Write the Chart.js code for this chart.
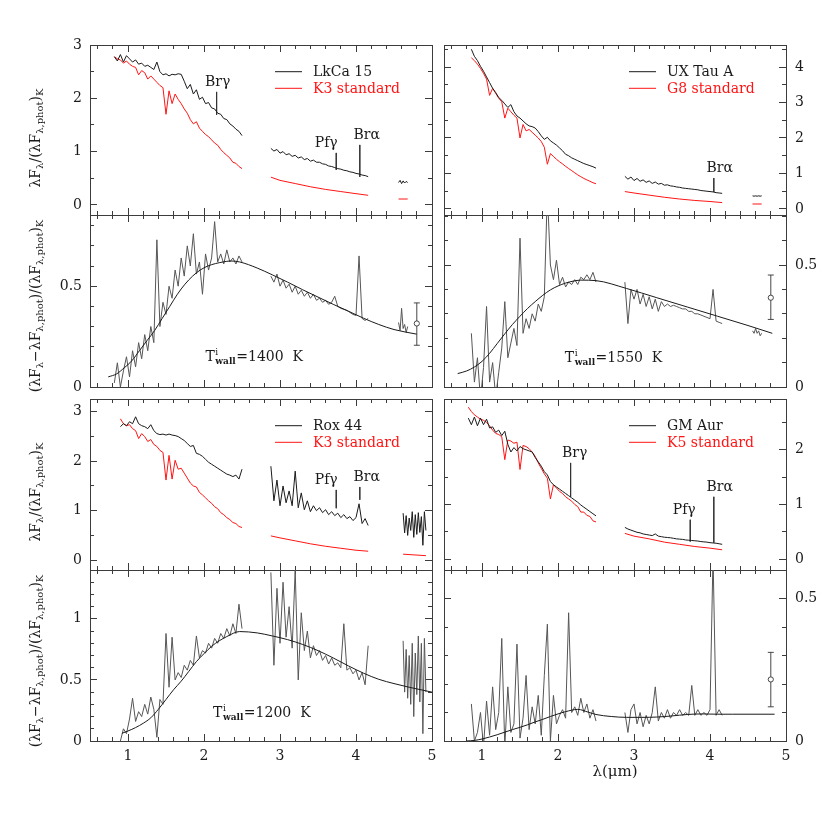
<!DOCTYPE html>
<html>
<head>
<meta charset="utf-8">
<script src="https://cdn.jsdelivr.net/npm/chart.js@4.4.1/dist/chart.umd.min.js"></script>
<style>
  html, body { margin: 0; padding: 0; background: #fff; }
  #wrap { position: relative; width: 830px; height: 830px; }
  #wrap canvas { position: absolute; left: 0; top: 0; }
</style>
</head>
<body>
<div id="wrap"></div>
<script>
// wavelength grids (micron)
const wlJ = [0.82,0.86,0.90,0.94,0.98,1.02,1.06,1.10,1.14,1.18,
             1.22,1.26,1.30,1.34,1.38,1.42,1.46,1.50,1.54,1.58,
             1.62,1.66,1.70,1.74,1.78,1.82,1.86,1.90,1.94,1.98,
             2.02,2.06,2.10,2.14,2.18,2.22,2.26,2.30,2.34,2.38,
             2.42,2.46,2.50];
const wlL = [2.88,2.92,2.96,3.00,3.04,3.08,3.12,3.16,3.20,3.24,
             3.28,3.32,3.36,3.40,3.44,3.48,3.52,3.56,3.60,3.64,
             3.68,3.72,3.76,3.80,3.84,3.88,3.92,3.96,4.00,4.04,
             4.08,4.12,4.16];
const wlLs = [2.88, 3.00, 3.20, 3.40, 3.60, 3.80, 4.00, 4.16];
const wlM = [4.56, 4.58, 4.60, 4.62, 4.64, 4.66, 4.68];
const wlMs = [4.56, 4.68];
const wlMRox = [4.62,4.64,4.66,4.68,4.70,4.72,4.74,4.76,4.78,4.80,4.82,4.84,4.86,4.88,4.90,4.92];
const wlMsRox = [4.62, 4.92];

// tick positions
const xMajor = [1, 2, 3, 4, 5];
const xMinor = [0.6,0.8,1.0,1.2,1.4,1.6,1.8,2.0,2.2,2.4,2.6,2.8,3.0,3.2,3.4,3.6,3.8,4.0,4.2,4.4,4.6,4.8,5.0];
const specMajor = [0, 1, 2, 3, 4];
const specMinor = [0, 0.5, 1, 1.5, 2, 2.5, 3, 3.5, 4, 4.5];
const excMajor = [0, 0.5, 1];
const excMinor = [0, 0.1, 0.2, 0.3, 0.4, 0.5, 0.6, 0.7, 0.8, 0.9, 1.0, 1.1, 1.2, 1.3, 1.4];

// LkCa 15
const lkcaJ = [2.78,2.70,2.82,2.68,2.80,2.74,2.68,2.72,2.64,2.66,
               2.60,2.62,2.58,2.54,2.68,2.50,2.44,2.46,2.42,2.45,
               2.44,2.46,2.45,2.32,2.18,2.26,2.08,2.16,1.98,2.02,
               1.90,1.92,1.82,1.80,1.72,1.70,1.62,1.60,1.52,1.48,
               1.42,1.38,1.30];
const lkcaL = [1.06,1.01,1.04,0.97,1.00,0.94,0.96,0.91,0.93,0.88,
               0.90,0.85,0.87,0.82,0.84,0.80,0.80,0.77,0.76,0.73,
               0.72,0.70,0.68,0.67,0.65,0.64,0.62,0.61,0.59,0.58,
               0.56,0.55,0.53];
const lkcaM = [0.42, 0.46, 0.40, 0.45, 0.41, 0.44, 0.42];
const k3lkJ = [2.78,2.74,2.72,2.66,2.70,2.64,2.60,2.58,2.44,2.52,
               2.48,2.36,2.42,2.36,2.30,2.24,2.20,1.70,2.14,1.90,
               2.08,1.98,1.90,1.80,1.72,1.60,1.52,1.56,1.44,1.38,
               1.32,1.28,1.22,1.16,1.12,1.04,0.98,0.93,0.88,0.80,
               0.78,0.72,0.68];
const k3lkL = [0.52, 0.46, 0.40, 0.34, 0.29, 0.25, 0.21, 0.18];
const k3lkM = [0.11, 0.11];
const lkcaExJ = [0.02,0.12,0.00,0.08,0.15,0.05,0.18,0.10,0.22,0.14,
                 0.26,0.18,0.30,0.22,0.73,0.30,0.42,0.36,0.50,0.44,
                 0.58,0.50,0.64,0.55,0.70,0.60,0.76,0.56,0.62,0.46,
                 0.66,0.58,0.64,0.82,0.62,0.66,0.61,0.68,0.62,0.64,
                 0.61,0.65,0.62];
const lkcaExL = [0.55,0.52,0.56,0.50,0.53,0.49,0.51,0.47,0.50,0.46,
                 0.48,0.45,0.47,0.44,0.46,0.43,0.44,0.42,0.43,0.41,
                 0.42,0.45,0.40,0.39,0.385,0.38,0.37,0.36,0.355,0.65,
                 0.34,0.33,0.34];
const lkcaExM = [0.32, 0.28, 0.39, 0.29, 0.31, 0.27, 0.30];
const lkcaModelWl = [0.74,0.85,0.95,1.05,1.15,1.25,1.35,1.45,1.55,1.65,1.75,1.85,1.95,2.05,2.15,
                     2.25,2.35,2.47,2.70,2.90,3.10,3.30,3.50,3.70,3.90,4.10,4.30,4.50,4.80];
const lkcaModel = [0.050,0.065,0.095,0.13,0.18,0.23,0.28,0.34,0.40,0.46,0.51,0.55,0.58,0.60,0.612,
                   0.62,0.625,0.62,0.59,0.556,0.52,0.482,0.446,0.41,0.376,0.341,0.31,0.285,0.262];
const lkcaPoint = [4.80, 0.315];
const lkcaRange = [0.207, 0.417];
const lkcaMarks = [[2.166, 2.12, 1.69], [3.74, 0.975, 0.656], [4.05, 1.125, 0.525]];

// UX Tau A
const uxJ = [null,4.50,4.30,4.18,4.02,3.88,3.72,3.56,3.40,3.28,
             3.14,3.06,2.96,2.86,2.94,2.74,2.62,2.56,2.48,2.40,
             2.34,2.32,2.28,2.18,2.06,1.96,2.02,1.92,1.86,1.80,
             1.72,1.64,1.54,1.50,1.44,1.40,1.36,1.32,1.28,1.25,
             1.22,1.19,1.15];
const uxL = [0.92,0.84,0.90,0.80,0.86,0.78,0.82,0.75,0.79,0.72,
             0.76,0.70,0.72,0.67,0.68,0.65,0.64,0.62,0.61,0.59,
             0.58,0.57,0.56,0.55,0.54,0.52,0.51,0.50,0.49,0.48,
             0.46,0.45,0.44];
const uxM = [0.37, 0.36, 0.37, 0.36, 0.37, 0.36, 0.37];
const g8J = [null,4.26,4.18,4.08,3.96,3.82,3.66,3.20,3.40,3.26,
             3.12,3.02,2.56,2.84,2.74,2.64,2.56,2.00,2.38,2.20,
             2.24,2.16,2.08,2.00,1.90,1.74,1.26,1.56,1.48,1.40,
             1.33,1.27,1.20,1.14,1.08,1.02,0.96,0.91,0.86,0.82,
             0.78,0.74,0.71];
const g8L = [0.49, 0.45, 0.39, 0.33, 0.28, 0.24, 0.21, 0.18];
const g8M = [0.14, 0.14];
const uxExJ = [null,0.22,0.02,0.12,-0.05,0.08,0.33,0.02,0.10,-0.04,
               0.06,0.16,0.35,0.12,0.18,0.24,0.17,0.61,0.22,0.28,
               0.24,0.30,0.27,0.34,0.31,0.37,0.80,0.50,0.44,0.52,
               0.42,0.45,0.41,0.43,0.42,0.44,0.42,0.45,0.44,0.46,
               0.44,0.47,0.43];
const uxExL = [0.43,0.26,0.40,0.36,0.40,0.34,0.38,0.33,0.37,0.32,
               0.36,0.31,0.35,0.33,0.34,0.33,0.335,0.33,0.325,0.32,
               0.32,0.31,0.31,0.30,0.30,0.295,0.29,0.285,0.28,0.40,
               0.27,0.265,0.26];
const uxExM = [0.23, 0.22, 0.24, 0.22, 0.23, 0.21, 0.22];
const uxModelWl = [0.68,0.80,0.90,1.00,1.10,1.20,1.30,1.40,1.50,1.60,1.70,1.80,1.90,2.00,2.10,2.20,
                   2.30,2.50,2.90,3.30,3.70,4.10,4.50,4.82];
const uxModel = [0.055,0.066,0.082,0.105,0.138,0.178,0.218,0.256,0.29,0.322,0.35,0.376,0.398,0.414,0.426,0.434,
                 0.438,0.436,0.404,0.366,0.328,0.29,0.252,0.22];
const uxPoint = [4.80, 0.366];
const uxRange = [0.277, 0.459];
const uxMarks = [[4.05, 0.87, 0.48]];

// Rox 44
const roxJ = [null,null,2.70,2.76,2.72,2.80,2.76,2.90,2.76,2.72,
              2.70,2.66,2.74,2.62,2.56,2.54,2.55,2.53,2.55,2.53,
              2.52,2.50,2.46,2.42,2.36,2.30,2.32,2.16,2.14,2.10,
              2.04,1.98,1.94,1.90,1.86,1.82,1.78,1.74,1.72,1.69,
              1.72,1.64,1.84];
const roxL = [1.90,1.20,1.62,1.10,1.50,1.16,1.40,1.10,1.80,1.06,
              1.36,1.02,1.20,0.98,1.10,1.00,1.06,0.96,1.02,0.92,
              0.98,0.90,0.95,0.86,0.92,0.84,0.88,0.80,0.86,1.14,
              0.74,0.84,0.70];
const roxM = [0.95,0.55,0.90,0.50,0.85,0.60,0.98,0.46,0.92,0.52,0.96,0.56,0.88,0.30,0.98,0.60];
const k3rxJ = [null,null,2.86,2.76,2.72,2.74,2.66,2.62,2.46,2.56,
               2.50,2.40,2.44,2.34,2.30,2.22,2.18,1.62,2.12,1.64,
               2.02,1.84,1.86,1.76,1.66,1.56,1.50,1.48,1.37,1.32,
               1.26,1.20,1.15,1.08,1.04,0.96,0.92,0.86,0.82,0.76,
               0.74,0.68,0.66];
const k3rxL = [0.49, 0.45, 0.39, 0.33, 0.28, 0.24, 0.20, 0.18];
const k3rxM = [0.12, 0.09];
const roxExJ = [null,null,0.00,0.10,0.06,0.18,0.35,0.16,0.24,0.20,
                0.30,0.22,0.36,0.26,0.03,0.34,0.30,0.88,0.44,0.85,
                0.50,0.56,0.52,0.62,0.58,0.66,0.62,0.86,0.68,0.74,
                0.72,0.80,0.76,0.84,0.80,0.88,0.84,0.92,0.86,0.96,
                0.88,1.12,0.92];
const roxExL = [1.38,0.62,1.25,0.80,1.30,0.85,1.10,0.76,1.40,0.50,
                1.05,0.74,0.90,0.68,0.78,0.70,0.74,0.66,0.70,0.63,
                0.68,0.62,0.64,0.60,0.96,0.58,0.60,0.55,0.58,0.50,
                0.56,0.46,0.78];
const roxExM = [0.82,0.40,0.75,0.35,0.70,0.30,0.80,0.20,0.72,0.38,0.86,0.32,0.80,0.06,0.84,0.40];
const roxModelWl = [0.92,1.00,1.10,1.20,1.30,1.40,1.50,1.60,1.70,1.80,1.90,2.00,2.10,2.20,2.30,2.47,
                    2.70,2.90,3.10,3.30,3.50,3.70,3.90,4.10,4.30,4.50,4.70,5.00];
const roxModel = [0.063,0.082,0.11,0.145,0.19,0.26,0.34,0.42,0.49,0.57,0.65,0.715,0.775,0.82,0.855,0.896,
                  0.885,0.86,0.83,0.79,0.74,0.68,0.615,0.555,0.505,0.47,0.44,0.40];
const roxMarks = [[3.74, 1.42, 1.05], [4.05, 1.48, 1.22]];

// GM Aur
const gmJ = [2.58,2.46,2.60,2.44,2.58,2.46,2.56,2.40,2.42,2.32,
             2.36,2.26,2.34,2.10,1.96,2.04,1.98,2.06,2.02,2.00,
             1.98,1.96,1.86,1.78,1.70,1.60,1.54,1.42,1.36,1.32,
             1.28,1.24,1.20,1.16,1.12,1.08,1.04,0.99,0.95,0.91,
             0.87,0.83,0.79];
const gmL = [0.58,0.55,0.53,0.51,0.49,0.48,0.46,0.45,0.44,0.43,
             0.46,0.42,0.41,0.40,0.395,0.39,0.38,0.37,0.365,0.36,
             0.35,0.345,0.34,0.335,0.33,0.32,0.315,0.31,0.30,0.295,
             0.29,0.28,0.27];
const k5J = [2.78,2.70,2.64,2.60,2.56,2.54,2.50,2.44,2.36,2.30,
             2.28,2.24,1.82,2.18,2.16,2.12,2.14,1.64,2.08,2.06,
             2.02,1.96,1.88,1.76,1.66,1.56,1.48,1.10,1.36,1.30,
             1.24,1.20,1.14,1.10,1.06,1.00,0.96,0.86,0.86,0.80,
             0.78,0.70,0.68];
const k5L = [0.47, 0.42, 0.37, 0.31, 0.27, 0.23, 0.20, 0.17];
const gmExJ = [null,0.13,0.00,0.03,0.10,-0.02,0.14,0.02,0.19,0.04,
               0.10,0.36,-0.02,0.19,0.03,0.06,0.34,0.01,0.08,0.23,
               0.04,0.12,0.06,0.16,0.02,0.23,0.41,0.00,0.16,0.06,
               0.09,0.11,0.08,0.45,0.10,0.12,0.09,0.15,0.10,0.13,
               0.08,0.11,0.07];
const gmExL = [0.10,0.03,0.11,0.13,0.06,0.10,0.05,0.09,0.06,0.10,
               0.19,0.07,0.10,0.08,0.11,0.08,0.10,0.09,0.11,0.09,
               0.10,0.09,0.195,0.09,0.11,0.09,0.10,0.09,0.11,0.65,
               0.09,0.11,0.09];
const gmModelWl = [0.79,0.90,1.00,1.10,1.20,1.30,1.40,1.50,1.60,1.70,1.80,1.90,2.00,2.10,2.26,2.40,
                   2.50,2.70,2.90,3.10,3.30,3.50,3.70,3.90,4.10,4.30,4.50,4.85];
const gmModel = [0.0,0.002,0.007,0.014,0.022,0.031,0.040,0.048,0.057,0.067,0.076,0.086,0.095,0.103,0.111,0.101,
                 0.093,0.086,0.083,0.083,0.084,0.088,0.093,0.095,0.094,0.094,0.094,0.094];
const gmPoint = [4.80, 0.216];
const gmRange = [0.12, 0.311];
const gmMarks = [[2.166, 1.76, 1.14], [3.74, 0.72, 0.32], [4.05, 1.14, 0.30]];

const INK = '#1a1a1a';
const FRAME = '#3c3c3c';
const RED = '#ff1414';
const GREY = '#565656';
const SERIF = '"DejaVu Serif", "Liberation Serif", serif';
const LABEL_BOX = 40;   // room kept for tick labels (labels are clipped to their axis box)

const specTitle = [['λF','n'],['λ','b'],['/(λF','n'],['λ,phot','b'],[')','n'],['K','b']];
const excTitle = [['(λF','n'],['λ','b'],['−λF','n'],['λ,phot','b'],[')/(λF','n'],['λ,phot','b'],[')','n'],['K','b']];

const cols = [{l: 90, r: 432}, {l: 444, r: 786}];
const rows = [{t: 45, b: 215}, {t: 215, b: 387}, {t: 399, b: 570}, {t: 570, b: 741}];

const pts = (xs, ys) => xs.map((x, i) => ({x: x, y: ys[i]}));

function line(data, color, extra) {
  return Object.assign({data: data, borderColor: color, borderWidth: 1, pointRadius: 0,
    tension: 0, fill: false, spanGaps: false}, extra || {});
}

function markers(list) {
  return list.map(m => line([{x: m[0], y: m[1]}, {x: m[0], y: m[2]}], '#333', {borderWidth: 0.9}));
}

function errBar(p, range) {
  return [
    line([{x: p[0], y: p[1]}], '#333', {showLine: false, pointRadius: 2.6, pointBorderWidth: 0.9,
      pointBackgroundColor: '#fff', pointBorderColor: '#333'}),
    line([{x: p[0], y: range[0]}, {x: p[0], y: range[1]}], '#333', {borderWidth: 0.9,
      pointStyle: 'line', pointRadius: 3, pointBorderColor: '#333', pointBorderWidth: 0.9})
  ];
}

// labelled axes get a real box (weight 1 keeps them outermost), the rest are zero-size
function axis(dir, pos, lo, hi, list, len, labels, pad) {
  return {
    type: 'linear', axis: dir, position: pos, min: lo, max: hi, bounds: 'data', weight: labels ? 1 : 0,
    afterBuildTicks: s => { s.ticks = list.filter(v => v >= lo - 1e-9 && v <= hi + 1e-9).map(v => ({value: v})); },
    afterFit: s => {
      const size = labels ? LABEL_BOX : 0;
      if (dir === 'x') s.height = size; else s.width = size;
    },
    grid: {display: true, drawOnChartArea: false, drawTicks: true, tickLength: -len, tickColor: FRAME, tickWidth: 1},
    border: {display: true, color: FRAME, width: 1},
    ticks: {display: labels, autoSkip: false, maxRotation: 0, minRotation: 0, padding: pad,
      color: INK, font: {family: SERIF, size: 14}, callback: v => String(v)}
  };
}

function scalesFor(p) {
  const side = p.col === 0 ? 'left' : 'right';
  const other = p.col === 0 ? 'right' : 'left';
  return {
    x: axis('x', 'bottom', 0.5, 5, xMajor, 7, p.xLabels, 14),
    xMinor: axis('x', 'bottom', 0.5, 5, xMinor, 4, false, 0),
    xTop: axis('x', 'top', 0.5, 5, xMajor, 7, false, 0),
    xTopMinor: axis('x', 'top', 0.5, 5, xMinor, 4, false, 0),
    y: axis('y', side, p.lo, p.hi, p.major, 7, true, side === 'left' ? 15 : 16),
    yMinor: axis('y', side, p.lo, p.hi, p.minor, 4, false, 0),
    yOther: axis('y', other, p.lo, p.hi, p.major, 7, false, 0),
    yOtherMinor: axis('y', other, p.lo, p.hi, p.minor, 4, false, 0)
  };
}

function drawRich(ctx, parts, cx, cy) {
  ctx.save();
  ctx.translate(cx, cy);
  ctx.rotate(-Math.PI / 2);
  ctx.textAlign = 'left';
  ctx.textBaseline = 'alphabetic';
  ctx.fillStyle = INK;
  const fontOf = k => (k === 'n' ? 14 : 10) + 'px ' + SERIF;
  let w = 0;
  parts.forEach(p => { ctx.font = fontOf(p[1]); w += ctx.measureText(p[0]).width; });
  let x = -w / 2;
  parts.forEach(p => {
    ctx.font = fontOf(p[1]);
    ctx.fillText(p[0], x, p[1] === 'n' ? 0 : 3.5);
    x += ctx.measureText(p[0]).width;
  });
  ctx.restore();
}

const decor = {
  id: 'decor',
  afterDraw(chart, args, o) {
    const ctx = chart.ctx, a = chart.chartArea, sx = chart.scales.x, sy = chart.scales.y;
    const font = s => s + 'px ' + SERIF;
    ctx.save();
    (o.legend || []).forEach((row, i) => {
      const y = a.top + 26.7 + i * 16.6;
      ctx.strokeStyle = row[1];
      ctx.lineWidth = 1;
      ctx.beginPath();
      ctx.moveTo(a.left + 185, y);
      ctx.lineTo(a.left + 212, y);
      ctx.stroke();
      ctx.fillStyle = row[1];
      ctx.font = font(14);
      ctx.textAlign = 'left';
      ctx.textBaseline = 'middle';
      ctx.fillText(row[0], a.left + 223, y + 1);
    });
    ctx.textBaseline = 'alphabetic';
    ctx.fillStyle = INK;
    (o.labels || []).forEach(m => {
      ctx.font = font(14);
      ctx.textAlign = 'center';
      ctx.fillText(m[0], sx.getPixelForValue(m[1]) + m[3], sy.getPixelForValue(m[2]) - 6);
    });
    if (o.twall) {
      let x = sx.getPixelForValue(o.twall[1]);
      const y = sy.getPixelForValue(o.twall[2]);
      ctx.textAlign = 'left';
      ctx.font = font(14);
      ctx.fillText('T', x, y);
      x += ctx.measureText('T').width + 0.5;
      ctx.font = font(9);
      ctx.fillText('i', x, y - 6);
      ctx.font = 'bold ' + font(9);
      ctx.fillText('wall', x, y + 3);
      x += ctx.measureText('wall').width + 0.5;
      ctx.font = font(14);
      ctx.fillText('=' + o.twall[0] + '  K', x, y);
    }
    if (o.ytitle) drawRich(ctx, o.ytitle[0], 39.5, o.ytitle[1]);
    if (o.xtitle) {
      ctx.font = font(15);
      ctx.textAlign = 'center';
      ctx.fillText('λ(μm)', (a.left + a.right) / 2, 776);
    }
    ctx.restore();
  }
};

const panels = [
  {col: 0, row: 0, lo: -0.19, hi: 3.0, major: specMajor, minor: specMinor, xLabels: false,
   datasets: [line(pts(wlJ, lkcaJ), INK), line(pts(wlL, lkcaL), INK), line(pts(wlM, lkcaM), INK),
              line(pts(wlJ, k3lkJ), RED), line(pts(wlLs, k3lkL), RED), line(pts(wlMs, k3lkM), RED)]
              .concat(markers(lkcaMarks)),
   decor: {legend: [['LkCa 15', INK], ['K3 standard', RED]],
           labels: [['Brγ', 2.166, 2.12, 1], ['Pfγ', 3.74, 0.975, -10], ['Brα', 4.05, 1.125, 7]],
           ytitle: [specTitle, 138]}},
  {col: 0, row: 1, lo: 0, hi: 0.853, major: excMajor, minor: excMinor, xLabels: false,
   datasets: errBar(lkcaPoint, lkcaRange).concat([line(pts(lkcaModelWl, lkcaModel), INK, {cubicInterpolationMode: 'monotone'}),
              line(pts(wlJ, lkcaExJ), GREY), line(pts(wlL, lkcaExL), GREY), line(pts(wlM, lkcaExM), GREY)]),
   decor: {twall: ['1400', 2.02, 0.128], ytitle: [excTitle, 306]}},
  {col: 1, row: 0, lo: -0.17, hi: 4.62, major: specMajor, minor: specMinor, xLabels: false,
   datasets: [line(pts(wlJ, uxJ), INK), line(pts(wlL, uxL), INK), line(pts(wlM, uxM), INK),
              line(pts(wlJ, g8J), RED), line(pts(wlLs, g8L), RED), line(pts(wlMs, g8M), RED)]
              .concat(markers(uxMarks)),
   decor: {legend: [['UX Tau A', INK], ['G8 standard', RED]], labels: [['Brα', 4.05, 0.87, 6]]}},
  {col: 1, row: 1, lo: 0, hi: 0.705, major: excMajor, minor: excMinor, xLabels: false,
   datasets: errBar(uxPoint, uxRange).concat([line(pts(uxModelWl, uxModel), INK, {cubicInterpolationMode: 'monotone'}),
              line(pts(wlJ, uxExJ), GREY), line(pts(wlL, uxExL), GREY), line(pts(wlM, uxExM), GREY)]),
   decor: {twall: ['1550', 2.09, 0.103]}},
  {col: 0, row: 2, lo: -0.2, hi: 3.26, major: specMajor, minor: specMinor, xLabels: false,
   datasets: [line(pts(wlJ, roxJ), INK), line(pts(wlL, roxL), INK), line(pts(wlMRox, roxM), INK),
              line(pts(wlJ, k3rxJ), RED), line(pts(wlLs, k3rxL), RED), line(pts(wlMsRox, k3rxM), RED)]
              .concat(markers(roxMarks)),
   decor: {legend: [['Rox 44', INK], ['K3 standard', RED]],
           labels: [['Pfγ', 3.74, 1.42, -10], ['Brα', 4.05, 1.48, 7]],
           ytitle: [specTitle, 492]}},
  {col: 0, row: 3, lo: 0, hi: 1.4, major: excMajor, minor: excMinor, xLabels: true,
   datasets: [line(pts(roxModelWl, roxModel), INK, {cubicInterpolationMode: 'monotone'}),
              line(pts(wlJ, roxExJ), GREY), line(pts(wlL, roxExL), GREY), line(pts(wlMRox, roxExM), GREY)],
   decor: {twall: ['1200', 2.12, 0.199], ytitle: [excTitle, 661]}},
  {col: 1, row: 2, lo: -0.2, hi: 2.93, major: specMajor, minor: specMinor, xLabels: false,
   datasets: [line(pts(wlJ, gmJ), INK), line(pts(wlL, gmL), INK),
              line(pts(wlJ, k5J), RED), line(pts(wlLs, k5L), RED)]
              .concat(markers(gmMarks)),
   decor: {legend: [['GM Aur', INK], ['K5 standard', RED]],
           labels: [['Brγ', 2.166, 1.76, 4], ['Pfγ', 3.74, 0.72, -6], ['Brα', 4.05, 1.14, 6]]}},
  {col: 1, row: 3, lo: 0, hi: 0.6, major: excMajor, minor: excMinor, xLabels: true,
   datasets: errBar(gmPoint, gmRange).concat([line(pts(gmModelWl, gmModel), INK, {cubicInterpolationMode: 'monotone'}),
              line(pts(wlJ, gmExJ), GREY), line(pts(wlL, gmExL), GREY)]),
   decor: {xtitle: true}}
];

const wrap = document.getElementById('wrap');
panels.forEach(p => {
  const canvas = document.createElement('canvas');
  canvas.width = 830;
  canvas.height = 830;
  wrap.appendChild(canvas);
  const c = cols[p.col], r = rows[p.row];
  const pad = {left: c.l, right: 830 - c.r, top: r.t, bottom: 830 - r.b};
  if (p.col === 0) pad.left -= LABEL_BOX; else pad.right -= LABEL_BOX;
  if (p.xLabels) pad.bottom -= LABEL_BOX;
  new Chart(canvas, {
    type: 'line',
    data: {datasets: p.datasets},
    options: {
      responsive: false,
      animation: false,
      devicePixelRatio: 1,
      events: [],
      layout: {padding: pad},
      scales: scalesFor(p),
      plugins: {legend: {display: false}, tooltip: {enabled: false}, decor: p.decor}
    },
    plugins: [decor]
  });
});
</script>
</body>
</html>
